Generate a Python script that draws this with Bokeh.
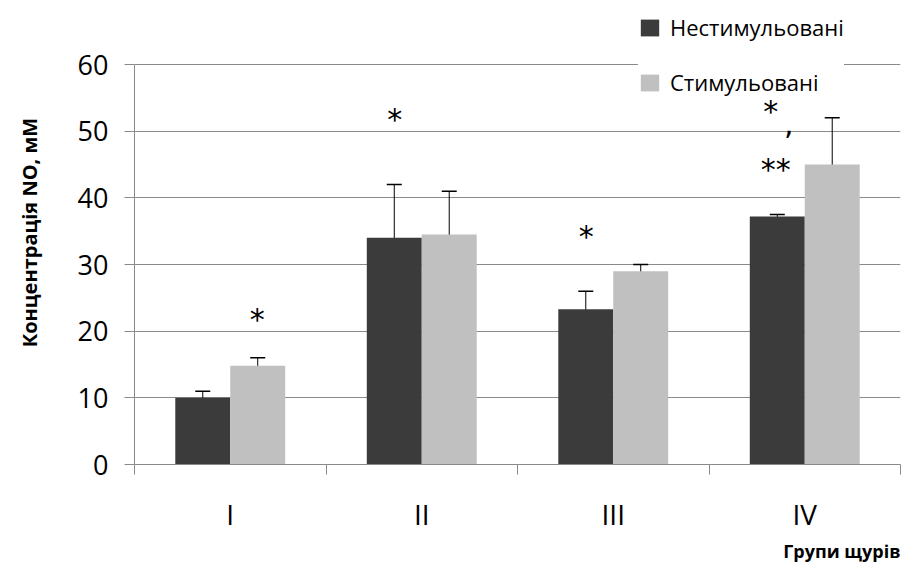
from bokeh.plotting import figure
from bokeh.models import (ColumnDataSource, FixedTicker, Whisker, TeeHead, Legend,
                          LegendItem, Range1d, Title)
from bokeh.transform import dodge
from bokeh.core.properties import value
from bokeh.embed import file_html
from bokeh.resources import INLINE

groups = ["I", "II", "III", "IV"]
series_names = ["Нестимульовані", "Стимульовані"]
unstim = [10.0, 34.0, 23.3, 37.2]
unstim_lo = [9.0, 26.0, 21.0, 36.9]
unstim_hi = [11.0, 42.0, 26.0, 37.5]
stim = [14.8, 34.5, 29.0, 45.0]
stim_lo = [13.5, 28.0, 28.0, 38.0]
stim_hi = [16.0, 41.0, 30.0, 52.0]
y_ticks = [0, 10, 20, 30, 40, 50, 60]

# significance marks (x in group units, y in data units)
mark_x = [0.641, 1.359, 2.359, 3.323, 3.417, 3.349]
mark_y = [21.7, 51.7, 34.2, 53.0, 51.2, 44.2]
mark_text = ["*", "*", "*", "*", ",", "**"]

DARK = "#3b3b3b"
LIGHT = "#c0c0c0"
GRID = "#8a8a8a"
FONT = "Open Sans"
BAR_W = 0.287

FRAME_H = 464          # frame extends to the top so the legend is not clipped
Y_MAX = 60 * FRAME_H / 400.0

xc = [i + 0.5 for i in range(len(groups))]
src = ColumnDataSource(dict(x=xc, unstim=unstim, unstim_lo=unstim_lo, unstim_hi=unstim_hi,
                            stim=stim, stim_lo=stim_lo, stim_hi=stim_hi))

p = figure(frame_width=766, frame_height=FRAME_H, output_backend="svg", toolbar_location=None,
           x_range=Range1d(0, len(groups)), y_range=Range1d(0, Y_MAX),
           min_border_left=134, min_border_right=1, min_border_top=0, min_border_bottom=0)
p.outline_line_color = None
p.background_fill_color = "white"

r1 = p.vbar(x=dodge("x", -BAR_W / 2), top="unstim", width=BAR_W, source=src,
            fill_color=DARK, line_color=None)
r2 = p.vbar(x=dodge("x", BAR_W / 2), top="stim", width=BAR_W, source=src,
            fill_color=LIGHT, line_color=None)

for base_off, lo, hi in [(-BAR_W / 2, "unstim_lo", "unstim_hi"), (BAR_W / 2, "stim_lo", "stim_hi")]:
    w = Whisker(base=dodge("x", base_off), lower=lo, upper=hi, source=src,
                line_color="black", line_width=1,
                upper_head=TeeHead(size=15, line_color="black", line_width=1.5),
                lower_head=TeeHead(size=15, line_color="black", line_width=1.5))
    p.add_layout(w)

# y axis
p.yaxis.ticker = FixedTicker(ticks=y_ticks)
p.yaxis.bounds = (0, 60)
p.yaxis.major_tick_out = 10
p.yaxis.major_tick_in = 0
p.yaxis.minor_tick_out = 0
p.yaxis.axis_line_color = GRID
p.yaxis.major_tick_line_color = GRID
p.yaxis.major_label_text_font = FONT
p.yaxis.major_label_text_font_size = "27px"
p.yaxis.major_label_text_color = "black"
p.yaxis.major_label_standoff = 16
p.yaxis.axis_label = "Концентрація NO, мМ"
p.yaxis.axis_label_text_font = FONT
p.yaxis.axis_label_text_font_style = "bold"
p.yaxis.axis_label_text_font_size = "20px"
p.yaxis.axis_label_text_color = "black"
p.yaxis.axis_label_standoff = 32

# x axis: labels at centers, ticks at category boundaries
p.xaxis.ticker = FixedTicker(ticks=xc, minor_ticks=list(range(len(groups) + 1)))
p.xaxis.major_label_overrides = {xc[i]: groups[i] for i in range(len(groups))}
p.xaxis.major_tick_out = 0
p.xaxis.major_tick_in = 0
p.xaxis.minor_tick_out = 10
p.xaxis.minor_tick_in = 0
p.xaxis.minor_tick_line_color = GRID
p.xaxis.axis_line_color = GRID
p.xaxis.major_label_text_font = FONT
p.xaxis.major_label_text_font_size = "28px"
p.xaxis.major_label_text_color = "black"
p.xaxis.major_label_standoff = 20

p.add_layout(Title(text="Групи щурів", align="right", text_font=FONT, standoff=2,
                   text_font_style="bold", text_font_size="18px", text_color="black"), "below")

p.xgrid.grid_line_color = None
p.ygrid.ticker = FixedTicker(ticks=y_ticks)
p.ygrid.grid_line_color = GRID
p.ygrid.grid_line_width = 1

legend = Legend(items=[LegendItem(label=series_names[0], renderers=[r1]),
                       LegendItem(label=series_names[1], renderers=[r2])],
                location=(504, 367), orientation="vertical",
                background_fill_color="white", background_fill_alpha=1.0,
                border_line_color=None, padding=8, margin=0, spacing=25,
                glyph_width=23, glyph_height=21, label_height=21, label_standoff=9,
                label_text_font=FONT, label_text_font_size="22px", label_text_color="black")
p.add_layout(legend, "center")

msrc = ColumnDataSource(dict(x=mark_x, y=mark_y, t=mark_text))
p.text(x="x", y="y", text="t", source=msrc, text_align="center", text_baseline="middle",
       text_font=value("DejaVu Sans"), text_font_size="30px", text_color="black",
       level="overlay")

open("out.html", "w").write(file_html(p, INLINE))
